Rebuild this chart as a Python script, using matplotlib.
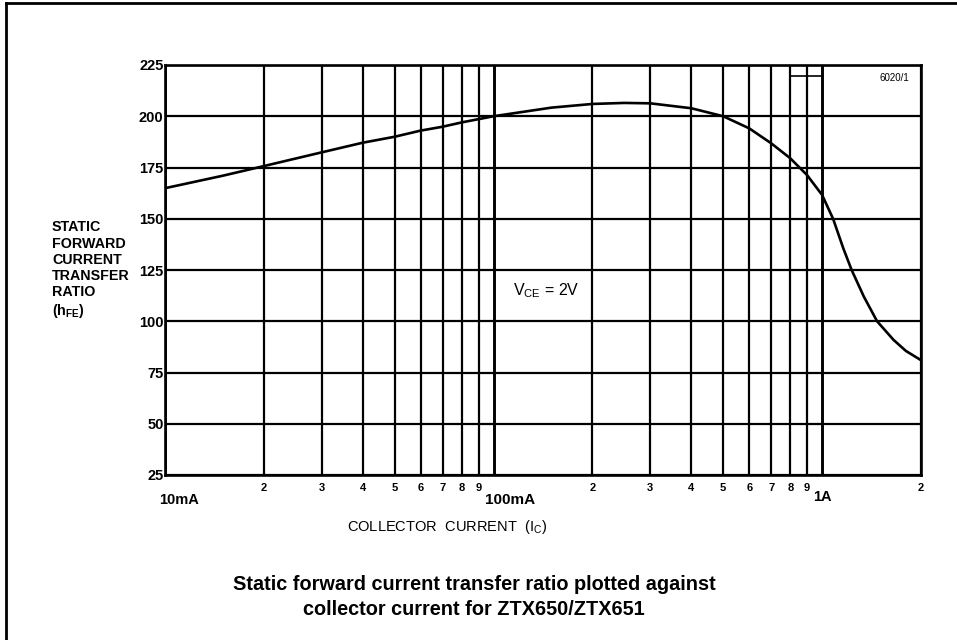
import matplotlib
matplotlib.use("Agg")
import matplotlib.pyplot as plt
from matplotlib.lines import Line2D
import matplotlib.transforms as mtransforms

# ---- data ----
ic_mA = [10, 15, 20, 30, 40, 50, 60, 70, 80, 100, 150, 200, 250, 300, 400,
         500, 600, 700, 800, 900, 1000, 1080, 1160, 1230, 1340, 1470, 1650, 1800, 2000]
hfe = [164.9, 171, 175.7, 182.4, 187.1, 190, 193, 194.9, 197, 200, 204.2, 206, 206.5, 206.3, 203.9,
       200, 194.1, 186.8, 179.5, 171.3, 161.6, 150, 135.6, 125, 112, 100, 90.9, 85.5, 81]

y_ticks = [25, 50, 75, 100, 125, 150, 175, 200, 225]
major_x = [10, 100, 1000]
major_labels = ["10mA", "100mA", "1A"]
minor_x = [20, 30, 40, 50, 60, 70, 80, 90, 200, 300, 400, 500, 600, 700, 800, 900, 2000]
minor_labels = ["2", "3", "4", "5", "6", "7", "8", "9", "2", "3", "4", "5", "6", "7", "8", "9", "2"]
artifact_x = [800, 1000]
artifact_y = [219.4, 219.4]

plt.rcParams['font.family'] = ['Liberation Sans', 'DejaVu Sans']

fig = plt.figure(figsize=(9.57, 6.4), dpi=100)
ax = fig.add_axes([165/957, 1-475/640, (921-165)/957, (475-65)/640])
ax.set_xscale('log')
ax.set_xlim(10, 2000)
ax.set_ylim(25, 225)

lw_grid = 1.6
for y in y_ticks:
    ax.axhline(y, color='black', lw=lw_grid, zorder=1)
for x in minor_x:
    ax.axvline(x, color='black', lw=lw_grid, zorder=1)
for x in major_x:
    ax.axvline(x, color='black', lw=2.1, zorder=1)

ax.plot(ic_mA, hfe, color='black', lw=1.9, zorder=3)
ax.plot(artifact_x, artifact_y, color='black', lw=1.2, zorder=2)

for s in ax.spines.values():
    s.set_linewidth(1.9)

ax.set_xticks([])
ax.set_xticks([], minor=True)
ax.set_yticks(y_ticks)
ax.set_yticklabels([str(v) for v in y_ticks], fontsize=10.5, fontweight='bold')
ax.tick_params(axis='y', length=0, pad=1)

trans = mtransforms.blended_transform_factory(ax.transData, ax.transAxes)
for x, lab in zip(minor_x, minor_labels):
    ax.text(x, -0.031, lab, transform=trans, ha='center', va='center',
            fontsize=8, fontweight='bold')
# major labels
ax.text(9.6, -0.061, major_labels[0], transform=trans, ha='left', va='center',
        fontsize=10.5, fontweight='bold')
ax.text(112, -0.061, major_labels[1], transform=trans, ha='center', va='center',
        fontsize=11, fontweight='bold')
ax.text(1005, -0.054, major_labels[2], transform=trans, ha='center', va='center',
        fontsize=10.5, fontweight='bold')

ax.text(0.373, -0.127, r"COLLECTOR  CURRENT  ($\mathregular{I_C}$)", transform=ax.transAxes,
        ha='center', va='center', fontsize=10.5)

ax.text(0.504, 0.449, r"$\mathregular{V_{CE}}$ = 2V", transform=ax.transAxes,
        ha='center', va='center', fontsize=11.5)

ax.text(0.965, 0.968, "6020/1", transform=ax.transAxes, ha='center', va='center', fontsize=7)

fig.text(52/957, 1-270/640, "STATIC\nFORWARD\nCURRENT\nTRANSFER\nRATIO\n(h$\\mathregular{_{FE}}$)",
         ha='left', va='center', fontsize=10.3, fontweight='bold', linespacing=1.2)

fig.text(474/957, 1-597/640, "Static forward current transfer ratio plotted against\ncollector current for ZTX650/ZTX651",
         ha='center', va='center', fontsize=14.3, fontweight='bold', linespacing=1.45)

# figure border (left and top)
fig.add_artist(Line2D([6/957, 6/957], [0, 1-3/640], transform=fig.transFigure, color='black', lw=2))
fig.add_artist(Line2D([6/957, 1], [1-3/640, 1-3/640], transform=fig.transFigure, color='black', lw=2))

fig.savefig("out.png", dpi=100)
